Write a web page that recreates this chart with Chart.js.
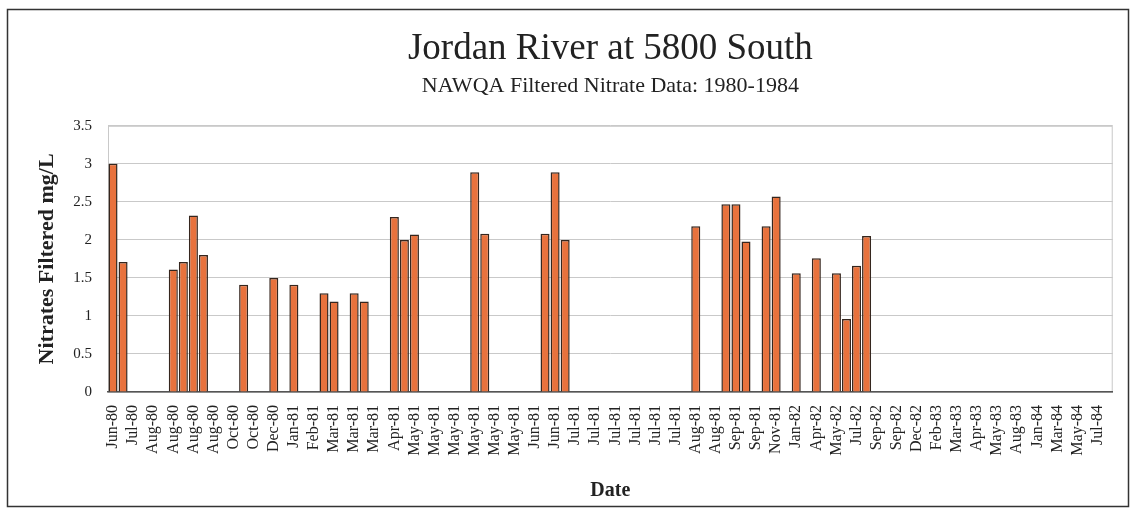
<!DOCTYPE html>
<html>
<head>
<meta charset="utf-8">
<title>Jordan River at 5800 South</title>
<script src="https://cdn.jsdelivr.net/npm/chart.js@4.4.1/dist/chart.umd.min.js"></script>
<style>
    html, body { margin: 0; padding: 0; background: #fff; }
    #wrap { width: 1132px; height: 513px; }
</style>
</head>
<body>
<div id="wrap"><canvas id="chart" width="1132" height="513"></canvas></div>
<script>
// Sampling dates printed under the axis (Excel shows every other category).
const tickDates = [
    'Jun-80', 'Jul-80', 'Aug-80', 'Aug-80', 'Aug-80', 'Aug-80', 'Oct-80', 'Oct-80', 'Dec-80', 'Jan-81',
    'Feb-81', 'Mar-81', 'Mar-81', 'Mar-81', 'Apr-81', 'May-81', 'May-81', 'May-81', 'May-81', 'May-81',
    'May-81', 'Jun-81', 'Jun-81', 'Jul-81', 'Jul-81', 'Jul-81', 'Jul-81', 'Jul-81', 'Jul-81', 'Aug-81',
    'Aug-81', 'Sep-81', 'Sep-81', 'Nov-81', 'Jan-82', 'Apr-82', 'May-82', 'Jul-82', 'Sep-82', 'Sep-82',
    'Dec-82', 'Feb-83', 'Mar-83', 'Apr-83', 'May-83', 'Aug-83', 'Jan-84', 'Mar-84', 'May-84', 'Jul-84',
];

// Every sample gets a slot; the unlabeled ones sit between two printed dates.
const sampleDates = tickDates.flatMap(d => [d, d]);

// Filtered nitrate, mg/L. null = no value reported for that sample.
const nitrate = [
    3.00, 1.71, null, null, null, null, 1.61, 1.71, 2.32, 1.80,
    null, null, null, 1.41, null, null, 1.50, null, 1.41, null,
    null, 1.30, 1.19, null, 1.30, 1.19, null, null, 2.30, 2.00,
    2.07, null, null, null, null, null, 2.89, 2.08, null, null,
    null, null, null, 2.08, 2.89, 2.00, null, null, null, null,
    null, null, null, null, null, null, null, null, 2.18, null,
    null, 2.47, 2.47, 1.98, null, 2.18, 2.57, null, 1.56, null,
    1.76, null, 1.56, 0.96, 1.66, 2.05, null, null, null, null,
    null, null, null, null, null, null, null, null, null, null,
    null, null, null, null, null, null, null, null, null, null,
];

const yTicks = [0, 0.5, 1, 1.5, 2, 2.5, 3, 3.5];

const SERIF = "'Liberation Serif', 'DejaVu Serif', serif";
const COLORS = {
    bar: '#e8723d',
    barEdge: '#35261e',
    grid: '#c9c9c9',
    axis: '#555',
    frame: '#333',
    text: '#222',
};

// Outer frame round the whole chart, plus the light plot-area box.
const framePlugin = {
    id: 'frame',
    beforeDraw(chart) {
        const { ctx, chartArea: a } = chart;
        ctx.save();
        ctx.strokeStyle = COLORS.frame;
        ctx.lineWidth = 1.5;
        ctx.strokeRect(7.5, 9.5, 1121, 497);
        ctx.strokeStyle = COLORS.grid;
        ctx.lineWidth = 1;
        ctx.strokeRect(a.left + 0.5, a.top + 0.5, a.width - 1, a.height);
        ctx.restore();
    },
};

new Chart(document.getElementById('chart'), {
    type: 'bar',
    data: {
        labels: sampleDates,
        datasets: [{
            label: 'Nitrates Filtered mg/L',
            data: nitrate,
            backgroundColor: COLORS.bar,
            borderColor: COLORS.barEdge,
            borderWidth: 1.5,
            barPercentage: 0.9,
            categoryPercentage: 1.0,
        }],
    },
    options: {
        responsive: false,
        animation: false,
        layout: { padding: { top: 21, left: 12, right: 17, bottom: 10 } },
        plugins: {
            legend: { display: false },
            tooltip: { enabled: false },
            title: {
                display: true,
                text: 'Jordan River at 5800 South',
                fullSize: false,
                color: COLORS.text,
                font: { family: SERIF, size: 37, weight: 'normal' },
                padding: { top: 6, bottom: 0 },
            },
            subtitle: {
                display: true,
                text: 'NAWQA Filtered Nitrate Data: 1980-1984',
                fullSize: false,
                color: COLORS.text,
                font: { family: SERIF, size: 22, weight: 'normal' },
                padding: { top: 2, bottom: 26 },
            },
        },
        scales: {
            x: {
                grid: { display: false },
                border: { display: true, color: COLORS.axis, width: 1.5 },
                ticks: {
                    autoSkip: false,
                    maxRotation: 90,
                    minRotation: 90,
                    padding: 5,
                    color: COLORS.text,
                    font: { family: SERIF, size: 16 },
                    callback: (v, i) => (i % 2 === 0 ? sampleDates[i] : ''),
                },
                title: {
                    display: true,
                    text: 'Date',
                    color: COLORS.text,
                    font: { family: SERIF, size: 20, weight: 'bold' },
                    padding: { top: 14, bottom: 0 },
                },
                afterFit: (scale) => { scale.height = 111; },
            },
            y: {
                min: yTicks[0],
                max: yTicks[yTicks.length - 1],
                afterBuildTicks: (scale) => { scale.ticks = yTicks.map(v => ({ value: v })); },
                grid: { color: COLORS.grid, drawTicks: false },
                border: { display: false },
                ticks: {
                    padding: 16,
                    color: COLORS.text,
                    font: { family: SERIF, size: 15 },
                    callback: (v) => String(v),
                },
                title: {
                    display: true,
                    text: 'Nitrates Filtered mg/L',
                    color: COLORS.text,
                    font: { family: SERIF, size: 22, weight: 'bold' },
                    padding: { top: 22, bottom: 0 },
                },
                afterFit: (scale) => { scale.width = 96; },
            },
        },
    },
    plugins: [framePlugin],
});
</script>
</body>
</html>
